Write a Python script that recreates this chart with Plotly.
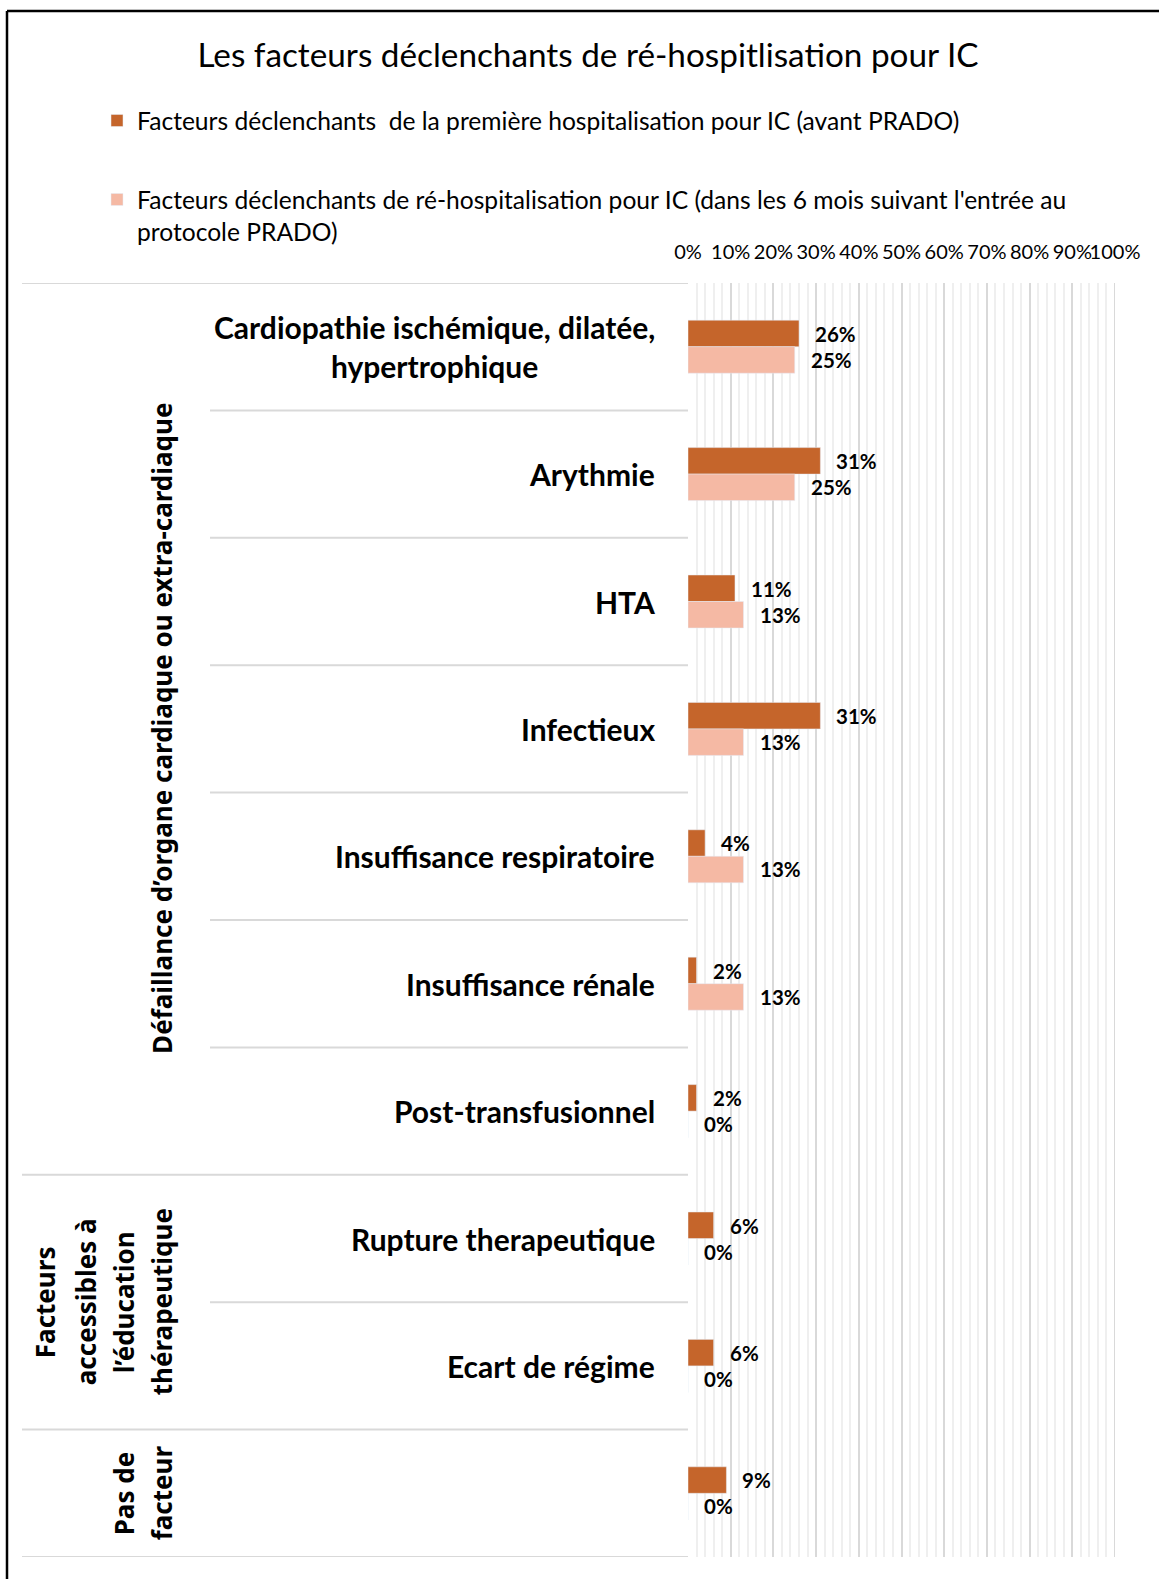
import plotly.graph_objects as go

# ---------------- data ----------------
categories = [
    "Cardiopathie ischémique, dilatée,<br>hypertrophique",
    "Arythmie",
    "HTA",
    "Infectieux",
    "Insuffisance respiratoire",
    "Insuffisance rénale",
    "Post-transfusionnel",
    "Rupture therapeutique",
    "Ecart de régime",
    "",
]
cat_ids = [f"c{i}" for i in range(len(categories))]
first_hosp = [0.26, 0.31, 0.11, 0.31, 0.04, 0.02, 0.02, 0.06, 0.06, 0.09]
re_hosp = [0.25, 0.25, 0.13, 0.13, 0.13, 0.13, 0.0, 0.0, 0.0, 0.0]

series_names = [
    "Facteurs déclenchants  de la première hospitalisation pour IC (avant PRADO)",
    "Facteurs déclenchants de ré-hospitalisation pour IC (dans les 6 mois suivant l'entrée au<br>protocole PRADO)",
]
title_text = "Les facteurs déclenchants de ré-hospitlisation pour IC"

groups = [
    (["Défaillance d’organe cardiaque ou extra-cardiaque"], 3.0),
    (["Facteurs", "accessibles à", "l’éducation", "thérapeutique"], 7.5),
    (["Pas de", "facteur"], 9.0),
]

# ---------------- layout geometry ----------------
W, H = 1161, 1580
PL, PR, PT, PB = 688, 1115, 283, 1557
DARK = "#C5652B"
LIGHT = "#F5B9A4"
FONT = "Lato"


def px_x(p):
    return (p - PL) / (PR - PL)


def px_y(p):
    return (PB - p) / (PB - PT)


fig = go.Figure()
fig.add_trace(go.Bar(x=first_hosp, y=cat_ids, orientation="h", name=series_names[0],
                     marker_color=DARK, legendgroup="a"))
fig.add_trace(go.Bar(x=re_hosp, y=cat_ids, orientation="h", name=series_names[1],
                     marker_color=LIGHT, legendgroup="b"))

annotations = []
# data labels
for vals, shift in ((first_hosp, 13), (re_hosp, -13)):
    for cid, v in zip(cat_ids, vals):
        annotations.append(dict(x=v, y=cid, xref="x", yref="y", text=f"<b>{round(v*100):.0f}%</b>",
                                showarrow=False, xanchor="left", xshift=14, yshift=shift,
                                font=dict(family=FONT, size=20.5, color="black")))
# category labels
for cid, lab in zip(cat_ids, categories):
    if lab:
        annotations.append(dict(x=px_x(657), y=cid, xref="paper", yref="y", text=f"<b>{lab}</b>",
                                showarrow=False, xanchor="right", align="center",
                                font=dict(family=FONT, size=30, color="black")))
# group labels
line_x = [45, 86, 124, 162]
for lines, ypos in groups:
    xs = line_x[-len(lines):]
    for t, xp in zip(lines, xs):
        annotations.append(dict(x=px_x(xp), y=ypos, xref="paper", yref="y", text=f"<b>{t}</b>",
                                showarrow=False, textangle=-90, xanchor="center", yanchor="middle",
                                font=dict(family="Noto Sans", size=26, color="black")))

shapes = []
outer = {-0.5, 6.5, 8.5, 9.5}
for k in range(11):
    b = k - 0.5
    x0 = px_x(22) if b in outer else px_x(210)
    shapes.append(dict(type="line", xref="paper", yref="y", x0=x0, x1=0, y0=b, y1=b,
                       line=dict(color="#d9d9d9", width=2)))
# 100% major gridline (edge of range)
shapes.append(dict(type="line", xref="x", yref="paper", x0=1, x1=1, y0=0, y1=1,
                   line=dict(color="#d9d9d9", width=2), layer="below"))
# outer frame (top and left edges)
shapes.append(dict(type="line", xref="paper", yref="paper", x0=px_x(7), x1=px_x(1159),
                   y0=px_y(11), y1=px_y(11), line=dict(color="black", width=2.5)))
shapes.append(dict(type="line", xref="paper", yref="paper", x0=px_x(7), x1=px_x(7),
                   y0=px_y(11), y1=px_y(1579), line=dict(color="black", width=2.5)))

fig.update_layout(
    width=W, height=H, autosize=False,
    margin=dict(l=PL, r=W - PR, t=PT, b=H - PB, pad=0, autoexpand=False),
    paper_bgcolor="white", plot_bgcolor="white",
    barmode="group", bargap=0.584, bargroupgap=0,
    font=dict(family=FONT, color="black"),
    title=dict(text=title_text, xref="container", yref="container", x=588 / W, y=1 - 55 / H,
               xanchor="center", yanchor="middle", font=dict(family=FONT, size=33.3, color="black")),
    legend=dict(xref="container", yref="container", x=97 / W, y=1 - 98 / H,
                xanchor="left", yanchor="top", traceorder="grouped", tracegroupgap=44,
                valign="top", font=dict(family=FONT, size=24.6, color="black"),
                bgcolor="rgba(0,0,0,0)", itemclick=False),
    xaxis=dict(range=[0, 1], dtick=0.1, tick0=0, tickformat=".0%", side="top",
               showgrid=True, gridcolor="#d9d9d9", gridwidth=2, zeroline=False,
               showline=False, ticks="", ticklabelstandoff=19, tickangle=0, automargin=False,
               tickfont=dict(family=FONT, size=20, color="black"),
               minor=dict(dtick=0.02, tick0=0, showgrid=True, gridcolor="#efefef", gridwidth=2)),
    yaxis=dict(type="category", categoryorder="array", categoryarray=cat_ids,
               range=[9.5, -0.5], showticklabels=False, showgrid=False, zeroline=False,
               showline=False, ticks="", automargin=False),
    annotations=annotations, shapes=shapes,
)

fig.write_html("out.html", post_script="document.body.style.margin='0';",
               config={"displayModeBar": False})
